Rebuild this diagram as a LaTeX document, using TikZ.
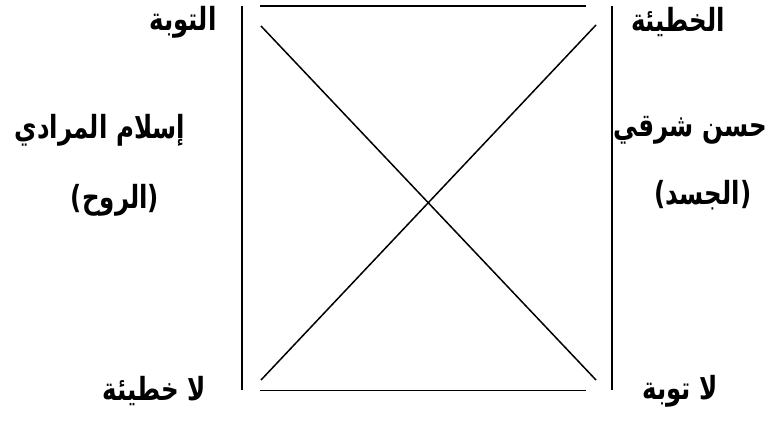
\documentclass[tikz,border=0pt]{standalone}
\usepackage{fontspec}
\usepackage{graphicx}
\newfontfamily\arabicfont[Script=Arabic]{DejaVu Sans}
\TeXXeTstate=1
\newcommand{\artext}[1]{\scalebox{1}[1.3]{\beginR #1\endR}}
\begin{document}
\begin{tikzpicture}[x=1pt,y=-1pt,
  lbl/.style={font=\arabicfont\bfseries\fontsize{24.5}{28}\selectfont, inner sep=0pt, anchor=center},
  ln/.style={line width=1.6pt, black},
  dg/.style={line width=1.5pt, black}]
\useasboundingbox (0,0) rectangle (771,423);
% frame coordinates
\coordinate (LVt) at (242,6);
\coordinate (LVb) at (242,390);
\coordinate (RVt) at (612,6);
\coordinate (RVb) at (612,390);
\coordinate (Ht1) at (260,6);
\coordinate (Ht2) at (586,6);
\coordinate (Hb1) at (260,390.5);
\coordinate (Hb2) at (586,390.5);
\coordinate (D1a) at (261,26);
\coordinate (D1b) at (596,380);
\coordinate (D2a) at (596,25);
\coordinate (D2b) at (261,380);
\draw[ln] (LVt) -- (LVb);
\draw[ln] (RVt) -- (RVb);
\draw[ln] (Ht1) -- (Ht2);
\draw[ln] (Hb1) -- (Hb2);
\draw[dg] (D1a) -- (D1b);
\draw[dg] (D2a) -- (D2b);
% labels
\node[lbl] (tawba) at (183,22) {\artext{التوبة}};
\node[lbl] (khatia) at (678,22) {\artext{الخطيئة}};
\node[lbl] (islam) at (100,130) {\artext{إسلام المرادي}};
\node[lbl] (ruh) at (115,200) {\artext{(الروح)}};
\node[lbl] (hasan) at (690,130) {\artext{حسن شرقي}};
\node[lbl] (jasad) at (703,195) {\artext{(الجسد)}};
\node[lbl] (lakh) at (154,391) {\artext{لا خطيئة}};
\node[lbl] (latw) at (680,391) {\artext{لا توبة}};
\end{tikzpicture}
\end{document}
